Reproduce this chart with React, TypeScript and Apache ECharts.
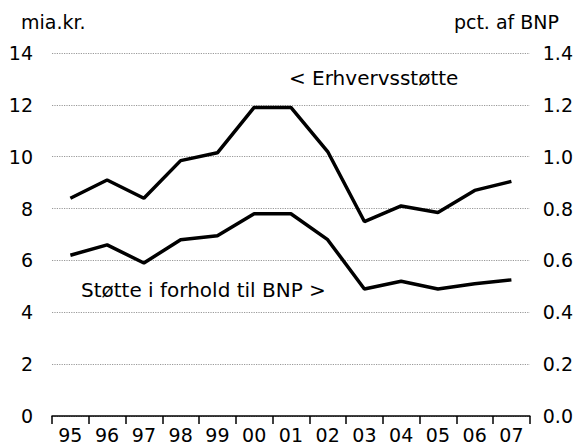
import React, { useEffect, useRef } from "react";
import * as echarts from "echarts";

const years = ["95", "96", "97", "98", "99", "00", "01", "02", "03", "04", "05", "06", "07"];
const erhvervsstotte = [8.4, 9.1, 8.4, 9.85, 10.15, 11.9, 11.9, 10.2, 7.5, 8.1, 7.85, 8.7, 9.05];
const stotteBNP = [0.62, 0.66, 0.59, 0.68, 0.695, 0.78, 0.78, 0.68, 0.49, 0.52, 0.49, 0.51, 0.525];
const leftTicks = { min: 0, max: 14, interval: 2 };
const rightTicks = { min: 0, max: 1.4, interval: 0.2 };

const FONT = "DejaVu Sans";

export default function App() {
  const ref = useRef<HTMLDivElement>(null);
  useEffect(() => {
    if (!ref.current) return;
    const chart = echarts.init(ref.current, null, { renderer: "svg" });
    chart.setOption({
      animation: false,
      backgroundColor: "#fff",
      textStyle: { fontFamily: FONT },
      grid: { left: 52, right: 46, top: 53, bottom: 30, containLabel: false },
      xAxis: {
        type: "category",
        data: years,
        boundaryGap: true,
        axisLine: { lineStyle: { color: "#000", width: 1.5 } },
        axisTick: { show: true, length: 8, lineStyle: { color: "#000", width: 1.5 } },
        axisLabel: { color: "#000", fontSize: 19, margin: 9, fontFamily: FONT },
      },
      yAxis: [
        {
          type: "value",
          ...leftTicks,
          axisLine: { show: false },
          axisTick: { show: false },
          axisLabel: { color: "#000", fontSize: 19, margin: 19, fontFamily: FONT },
          splitLine: { lineStyle: { color: "#999", width: 1.2, type: "dotted" } },
        },
        {
          type: "value",
          ...rightTicks,
          position: "right",
          axisLine: { show: false },
          axisTick: { show: false },
          axisLabel: {
            color: "#000",
            fontSize: 19,
            margin: 13,
            fontFamily: FONT,
            formatter: (v: number) => v.toFixed(1),
          },
          splitLine: { show: false },
        },
      ],
      series: [
        {
          name: "Erhvervsstøtte",
          type: "line",
          data: erhvervsstotte,
          yAxisIndex: 0,
          symbol: "none",
          lineStyle: { color: "#000", width: 3.5 },
        },
        {
          name: "Støtte i forhold til BNP",
          type: "line",
          data: stotteBNP,
          yAxisIndex: 1,
          symbol: "none",
          lineStyle: { color: "#000", width: 3.5 },
        },
      ],
      graphic: [
        { type: "text", left: 21, top: 12, style: { text: "mia.kr.", fontSize: 19, fontFamily: FONT, fill: "#000" } },
        { type: "text", right: 17, top: 12, style: { text: "pct. af BNP", fontSize: 19, fontFamily: FONT, fill: "#000" } },
        { type: "text", left: 289, top: 68, style: { text: "< Erhvervsstøtte", fontSize: 20, fontFamily: FONT, fill: "#000" } },
        { type: "text", left: 81, top: 280, style: { text: "Støtte i forhold til BNP >", fontSize: 20, fontFamily: FONT, fill: "#000" } },
      ],
    });
    return () => chart.dispose();
  }, []);
  return (
    <div
      ref={ref}
      style={{ position: "fixed", left: 0, top: 0, width: 576, height: 446 }}
    />
  );
}
